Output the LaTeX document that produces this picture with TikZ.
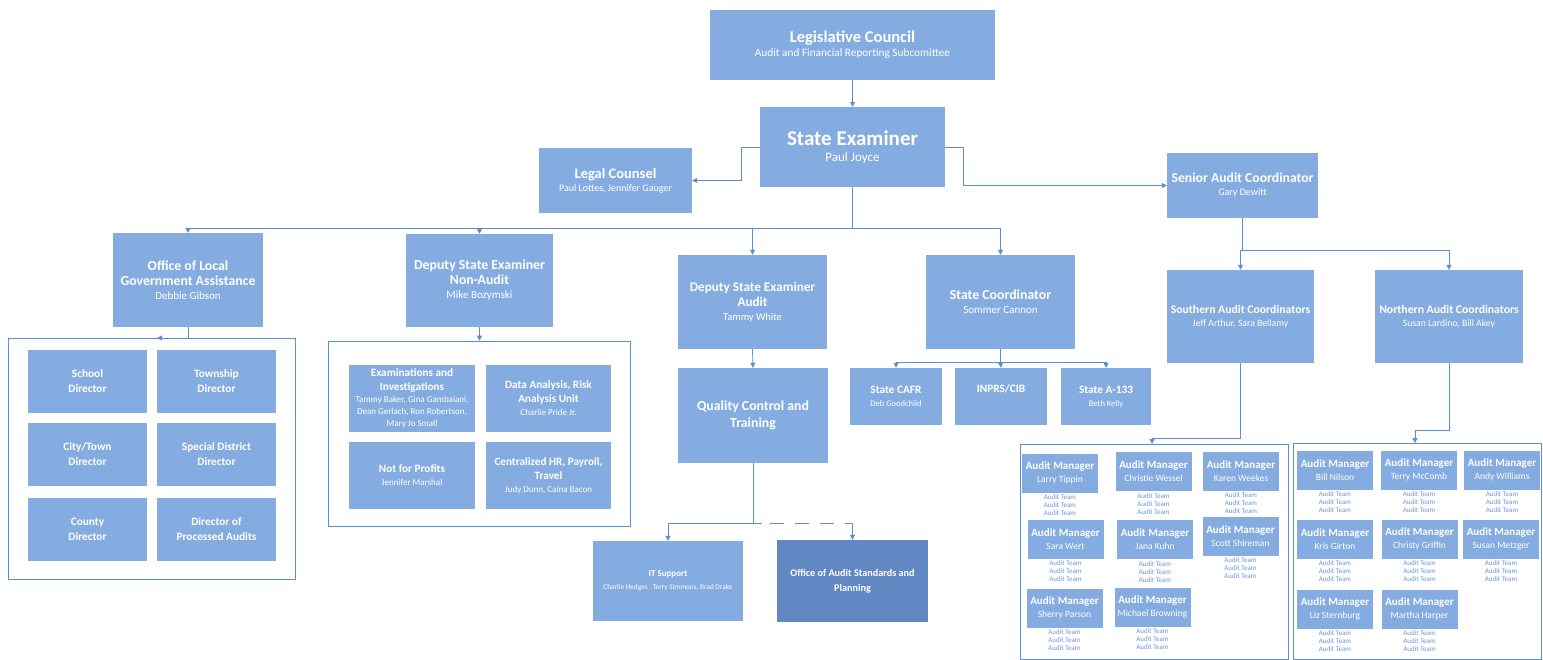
\documentclass[tikz,border=0pt]{standalone}
\usepackage{fontspec}
\setmainfont{Carlito}
\usetikzlibrary{arrows.meta,positioning}
\definecolor{boxblue}{RGB}{133,172,224}
\definecolor{darkbox}{RGB}{98,136,196}
\definecolor{lineblue}{RGB}{92,142,212}
\definecolor{teamblue}{RGB}{110,150,214}
\newcommand\hd[2][12]{{\fontsize{#1}{#1}\selectfont\bfseries #2}}
\newcommand\nm[2][8]{{\fontsize{#1}{#1}\selectfont #2}}
\tikzset{
  box/.style={fill=boxblue, text=white, align=center, inner sep=1pt},
  grp/.style={draw=lineblue, line width=0.6pt, inner sep=0pt},
  ln/.style={draw=lineblue, line width=0.8pt},
  conn/.style={ln, -{Triangle[length=5pt,width=5pt]}},
  team/.style={text=teamblue, align=center, inner sep=0pt, font=\fontsize{7}{8}\selectfont},
}
\newcommand\amgr[3]{%
  \node[box, minimum width=76, minimum height=39, inner sep=0pt] (#1) at (#2) {\hd[11]{Audit Manager}\\[1pt]\nm[9.5]{#3}};
  \node[team, below=2pt of #1] (#1t) {Audit Team\\Audit Team\\Audit Team};}
\begin{document}
\begin{tikzpicture}[x=1pt,y=-1pt]
\path[fill=white, use as bounding box] (0,0) rectangle (1543,660);

% top
\node[box, minimum width=285, minimum height=70] (leg) at (852.5,45) {\hd[16.5]{Legislative Council}\\[2pt]\nm[11.3]{Audit and Financial Reporting Subcomittee}};
\node[box, minimum width=185, minimum height=80] (se) at (852.5,147) {\hd[21]{State Examiner}\\[4pt]\nm[13]{Paul Joyce}};
\node[box, minimum width=153, minimum height=65] (legal) at (615.5,180.5) {\hd[14.5]{Legal Counsel}\\[1pt]\nm[10]{Paul Lottes, Jennifer Gauger}};
\node[box, minimum width=151, minimum height=65] (sac) at (1242.5,185.5) {\hd[13.7]{Senior Audit Coordinator}\\[1pt]\nm[10]{Gary Dewitt}};

% second level
\node[box, minimum width=150, minimum height=94] (olga) at (188,280) {\hd[13.8]{Office of Local}\\[3pt]\hd[13.8]{Government Assistance}\\[2pt]\nm[11]{Debbie Gibson}};
\node[box, minimum width=147, minimum height=93] (dna) at (479.5,280.5) {\hd[13.8]{Deputy State Examiner}\\[3pt]\hd[13.8]{Non-Audit}\\[2pt]\nm[11]{Mike Bozymski}};
\node[box, minimum width=149, minimum height=94] (da) at (752.5,302) {\hd[13.2]{Deputy State Examiner}\\[3pt]\hd[13.2]{Audit}\\[2pt]\nm[10.5]{Tammy White}};
\node[box, minimum width=149, minimum height=94] (sc) at (1000.5,302) {\hd[13.8]{State Coordinator}\\[2pt]\nm[11]{Sommer Cannon}};
\node[box, minimum width=147, minimum height=93] (south) at (1240.5,316.5) {\hd[11.7]{Southern Audit Coordinators}\\[1pt]\nm[9.7]{Jeff Arthur, Sara Bellamy}};
\node[box, minimum width=148, minimum height=93] (north) at (1449,316.5) {\hd[11.7]{Northern Audit Coordinators}\\[1pt]\nm[9.7]{Susan Lardino, Bill Akey}};

% OLGA group
\node[grp, minimum width=287, minimum height=241] (g1) at (151.5,458.5) {};
\node[box, minimum width=119, minimum height=63] (school) at (87.5,381.5) {\hd[11.3]{School}\\[3pt]\hd[11.3]{Director}};
\node[box, minimum width=119, minimum height=63] (town) at (216.5,381.5) {\hd[11.3]{Township}\\[3pt]\hd[11.3]{Director}};
\node[box, minimum width=119, minimum height=63] (city) at (87.5,454.5) {\hd[11.3]{City/Town}\\[3pt]\hd[11.3]{Director}};
\node[box, minimum width=119, minimum height=63] (spec) at (216.5,454.5) {\hd[11.3]{Special District}\\[3pt]\hd[11.3]{Director}};
\node[box, minimum width=119, minimum height=63] (county) at (87.5,529) {\hd[11.3]{County}\\[3pt]\hd[11.3]{Director}};
\node[box, minimum width=119, minimum height=63] (proc) at (216.5,529) {\hd[11.3]{Director of}\\[3pt]\hd[11.3]{Processed Audits}};

% Non-audit group
\node[grp, minimum width=302, minimum height=185] (g2) at (479,433.5) {};
\node[box, minimum width=126, minimum height=67] (exam) at (412,398.5) {\hd[11.2]{Examinations and}\\[1.5pt]\hd[11.2]{Investigations}\\[0.5pt]\nm[9]{Tammy Baker, Gina Gambaiani,}\\\nm[9]{Dean Gerlach, Ron Robertson,}\\\nm[9]{Mary Jo Small}};
\node[box, minimum width=125, minimum height=67] (data) at (548.5,398.5) {\hd[11.2]{Data Analysis, Risk}\\[2pt]\hd[11.2]{Analysis Unit}\\[1pt]\nm[9]{Charlie Pride Jr.}};
\node[box, minimum width=126, minimum height=67] (nfp) at (412,475.5) {\hd[11.2]{Not for Profits}\\[1pt]\nm[9]{Jennifer Marshal}};
\node[box, minimum width=125, minimum height=67] (hr) at (548.5,475.5) {\hd[11.2]{Centralized HR, Payroll,}\\[2pt]\hd[11.2]{Travel}\\[1pt]\nm[9]{Judy Dunn, Caina Bacon}};

% audit column
\node[box, minimum width=150, minimum height=95] (qc) at (753,415.5) {\hd[13.8]{Quality Control and}\\[5pt]\hd[13.8]{Training}};
\node[box, minimum width=150, minimum height=80] (it) at (668,581) {\hd[9]{IT Support}\\[1pt]\nm[7.3]{Charlie Hedges , Terry Simmons, Brad Drake}};
\node[box, fill=darkbox, minimum width=151, minimum height=82] (oas) at (852.5,581) {\hd[10.2]{Office of Audit Standards and}\\[3pt]\hd[10.2]{Planning}};

% state coordinator children
\node[box, minimum width=92, minimum height=57] (cafr) at (896,396.5) {\hd[11.3]{State CAFR}\\[1pt]\nm[8.5]{Deb Goodchild}};
\node[box, minimum width=92, minimum height=57] (inprs) at (1001,396.5) {\hd[11.3]{INPRS/CIB}\\[1pt]\nm[8.5]{\strut}};
\node[box, minimum width=90, minimum height=57] (a133) at (1106,396.5) {\hd[11.3]{State A-133}\\[1pt]\nm[8.5]{Beth Kelly}};

% southern group
\node[grp, minimum width=268, minimum height=215] (g3) at (1154,551.5) {};
\amgr{m1}{1060,473}{Larry Tippin}
\amgr{m2}{1153.5,471.5}{Christie Wessel}
\amgr{m3}{1241,471}{Karen Weekes}
\amgr{m4}{1065.5,539}{Sara Wert}
\amgr{m5}{1155,539.5}{Jana Kuhn}
\amgr{m6}{1240.5,536}{Scott Shireman}
\amgr{m7}{1064.5,608}{Sherry Parson}
\amgr{m8}{1152.5,607}{Michael Browning}

% northern group
\node[grp, minimum width=248, minimum height=216] (g4) at (1417,551) {};
\amgr{n1}{1335,470}{Bill Nilson}
\amgr{n2}{1419,470}{Terry McComb}
\amgr{n3}{1502,470}{Andy Williams}
\amgr{n4}{1335,539}{Kris Girton}
\amgr{n5}{1419.5,539}{Christy Griffin}
\amgr{n6}{1501,539}{Susan Metzger}
\amgr{n7}{1335,609}{Liz Sternburg}
\amgr{n8}{1419.5,609}{Martha Harper}

% coordinates
\coordinate (bus) at (852.5,228);
\coordinate (sbus) at (1242.5,250);
\coordinate (scb) at (1000.5,362);
\coordinate (qb) at (753,523);
\coordinate (qd) at (770,523);
\coordinate (qe) at (852.5,523);
\coordinate (g1a) at (157,338);
\coordinate (g3a) at (1152,444);
\coordinate (g4a) at (1415,443);

% connectors
\draw[conn] (leg.south) -- (se.north);
\draw[conn] (se.west) -- ++(-18,0) |- (legal.east);
\draw[conn] (se.east) -- ++(18,0) |- (sac.west);
\draw[ln] (se.south) -- (bus);
\draw[conn] (bus) -| (olga.north);
\draw[conn] (bus) -| (dna.north);
\draw[conn] (bus) -| (da.north);
\draw[conn] (bus) -| (sc.north);
\draw[ln] (sac.south) -- (sbus);
\draw[conn] (sbus) -| (south.north);
\draw[conn] (sbus) -| (north.north);
\draw[conn] (olga.south) |- (g1a);
\draw[conn] (dna.south) -- (dna.south |- g2.north);
\draw[conn] (da.south) -- (qc.north);
\draw[ln] (sc.south) -- (scb);
\draw[conn] (scb) -| (cafr.north);
\draw[conn] (scb) -- (inprs.north);
\draw[conn] (scb) -| (a133.north);
\draw[ln] (qc.south) -- (qb);
\draw[conn] (qb) -| (it.north);
\draw[ln] (qb) -- (762,523);
\draw[ln, dash pattern=on 14pt off 11pt] (qd) -- (qe);
\draw[conn] (qe) -- (oas.north);
\draw[conn] (south.south) -- ++(0,75) -| (g3a);
\draw[conn] (north.south) -- ++(0,67) -| (g4a);
\end{tikzpicture}
\end{document}
